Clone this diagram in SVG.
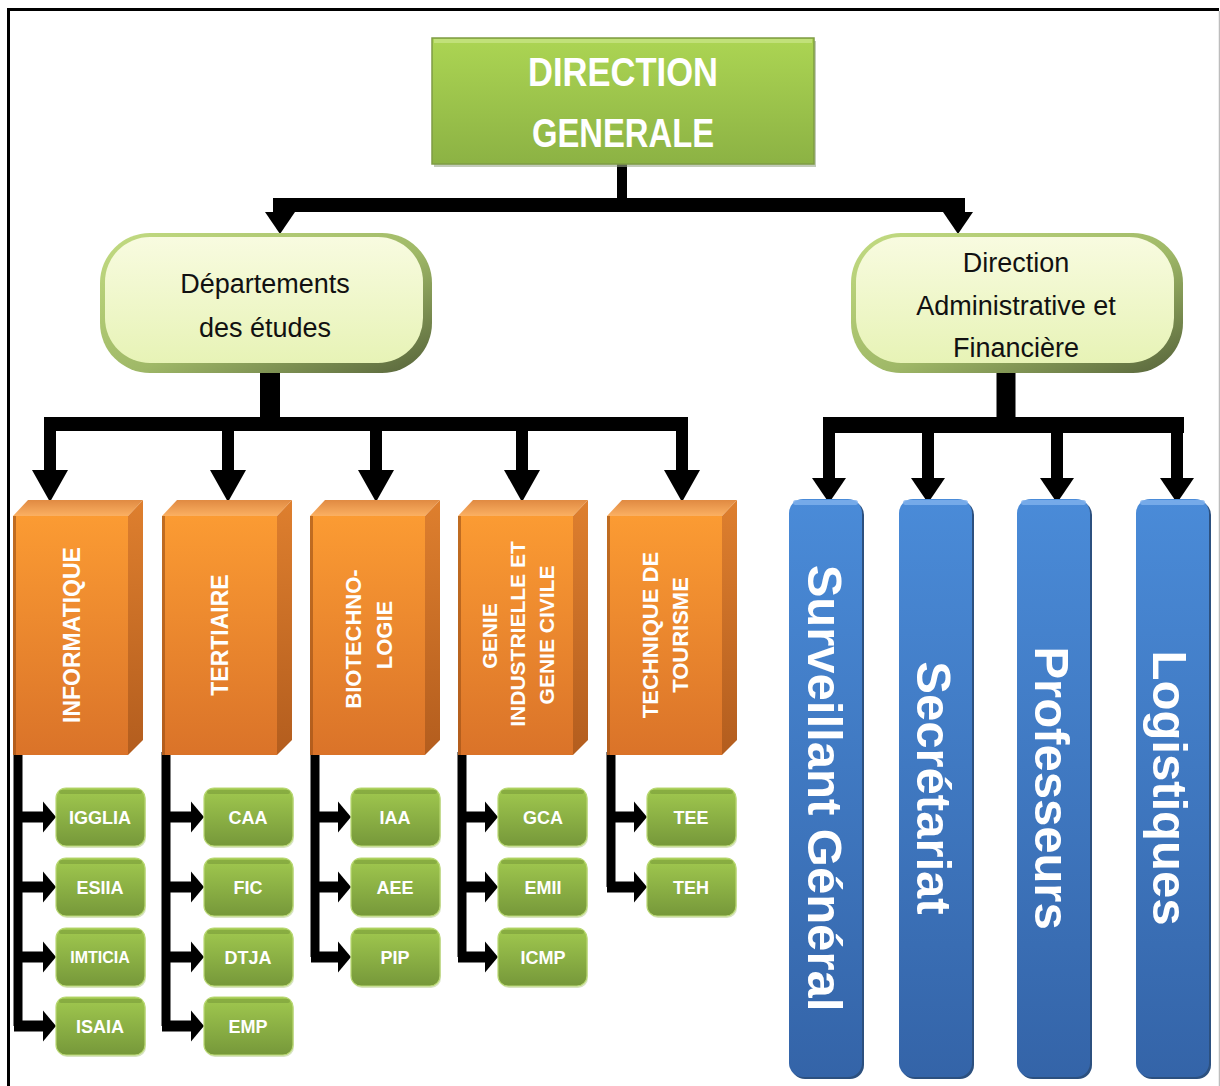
<svg xmlns="http://www.w3.org/2000/svg" xmlns:xlink="http://www.w3.org/1999/xlink" width="1220" height="1086" viewBox="0 0 1220 1086">
  <defs>
    <style>
      .t { font-family: "Liberation Sans", Arial, sans-serif; text-anchor: middle; }
      .dg { font-size: 40px; font-weight: bold; fill: #ffffff; }
      .pill { font-size: 27px; fill: #111111; }
      .dept { font-size: 22px; font-weight: bold; fill: #ffffff; }
      .sub { font-size: 18px; font-weight: bold; fill: #ffffff; }
      .staff { font-size: 49px; font-weight: bold; fill: #ffffff; }
      .wire { stroke: #000000; fill: none; stroke-linecap: butt; }
    </style>
    <linearGradient id="gDG" x1="0" y1="0" x2="0" y2="1">
      <stop offset="0" stop-color="#acd553"/>
      <stop offset="1" stop-color="#8cb244"/>
    </linearGradient>
    <linearGradient id="gRim" x1="0" y1="0" x2="1" y2="1">
      <stop offset="0" stop-color="#c3dc82"/>
      <stop offset="0.55" stop-color="#9fb867"/>
      <stop offset="1" stop-color="#56633a"/>
    </linearGradient>
    <linearGradient id="gPill" x1="0" y1="0" x2="0" y2="1">
      <stop offset="0" stop-color="#f8fbe0"/>
      <stop offset="1" stop-color="#e7f3b6"/>
    </linearGradient>
    <linearGradient id="gOrFront" x1="0" y1="0" x2="0" y2="1">
      <stop offset="0" stop-color="#fb9b33"/>
      <stop offset="1" stop-color="#da7329"/>
    </linearGradient>
    <linearGradient id="gOrTop" x1="0" y1="0" x2="0" y2="1">
      <stop offset="0" stop-color="#e08a42"/>
      <stop offset="1" stop-color="#fbb062"/>
    </linearGradient>
    <linearGradient id="gOrSide" x1="0" y1="0" x2="0" y2="1">
      <stop offset="0" stop-color="#de7f2e"/>
      <stop offset="1" stop-color="#b35d1e"/>
    </linearGradient>
    <linearGradient id="gGreen" x1="0" y1="0" x2="0" y2="1">
      <stop offset="0" stop-color="#a1c94f"/>
      <stop offset="1" stop-color="#76983a"/>
    </linearGradient>
    <linearGradient id="gBlue" x1="0" y1="0" x2="0" y2="1">
      <stop offset="0" stop-color="#4a8bd8"/>
      <stop offset="1" stop-color="#3464a8"/>
    </linearGradient>

    <!-- arrowheads, tip at origin -->
    <path id="headDownBig" d="M-15,-22 L15,-22 L0,0 Z" fill="#000"/>
    <path id="headDown" d="M-18,-32 L18,-32 L0,0 Z" fill="#000"/>
    <path id="headDownR" d="M-17,-25 L17,-25 L0,0 Z" fill="#000"/>
    <path id="headRight" d="M-13,-15.5 L0,0 L-13,15.5 Z" fill="#000"/>

    <!-- green leaf box -->
    <g id="leaf">
      <rect x="1" y="2" width="89" height="58" rx="10" fill="#c8d9a6" opacity="0.7"/>
      <rect x="0" y="0" width="89" height="58" rx="10" fill="url(#gGreen)" stroke="#b9d873" stroke-width="1.2"/>
      <rect x="3" y="2" width="83" height="4" rx="2" fill="#5f7e2a" opacity="0.35"/>
    </g>

    <!-- orange 3D block -->
    <g id="block">
      <rect x="0" y="16" width="115" height="239" fill="url(#gOrFront)"/>
      <polygon points="0,16 15,0 130,0 115,16" fill="url(#gOrTop)"/>
      <polygon points="115,16 130,0 130,240 115,255" fill="url(#gOrSide)"/>
      <rect x="0" y="16" width="3" height="239" fill="#9a4f16" opacity="0.6"/>
    </g>

    <!-- blue staff bar -->
    <g id="bar">
      <rect x="2" y="2" width="73" height="578" rx="14" fill="#2c507f"/>
      <rect x="0" y="0" width="73" height="578" rx="14" fill="url(#gBlue)"/>
      <rect x="4" y="1" width="65" height="5" rx="2.5" fill="#7fb2ee" opacity="0.8"/>
    </g>
  </defs>

  <rect width="1220" height="1086" fill="#ffffff"/>

  <!-- page frame -->
  <g id="frame">
    <line x1="7" y1="9.5" x2="1219" y2="9.5" stroke="#000" stroke-width="3"/>
    <line x1="8.5" y1="8" x2="8.5" y2="1086" stroke="#000" stroke-width="3"/>
    <line x1="1219.5" y1="11" x2="1219.5" y2="1086" stroke="#bdbdbd" stroke-width="1.5"/>
  </g>

  <!-- connectors -->
  <g id="connectors">
    <!-- top level -->
    <line class="wire" x1="622" y1="164" x2="622" y2="205" stroke-width="10"/>
    <line class="wire" x1="273" y1="205" x2="965" y2="205" stroke-width="14"/>
    <line class="wire" x1="280" y1="205" x2="280" y2="214" stroke-width="12"/>
    <line class="wire" x1="958" y1="205" x2="958" y2="214" stroke-width="12"/>
    <use xlink:href="#headDownBig" x="280" y="234"/>
    <use xlink:href="#headDownBig" x="958" y="234"/>

    <!-- departments -->
    <line class="wire" x1="270" y1="372" x2="270" y2="424" stroke-width="20"/>
    <line class="wire" x1="44" y1="424" x2="688" y2="424" stroke-width="14"/>
    <line class="wire" x1="50" y1="424" x2="50" y2="472" stroke-width="12"/>
    <line class="wire" x1="228" y1="424" x2="228" y2="472" stroke-width="12"/>
    <line class="wire" x1="376" y1="424" x2="376" y2="472" stroke-width="12"/>
    <line class="wire" x1="522" y1="424" x2="522" y2="472" stroke-width="12"/>
    <line class="wire" x1="682" y1="424" x2="682" y2="472" stroke-width="12"/>
    <use xlink:href="#headDown" x="50" y="502"/>
    <use xlink:href="#headDown" x="228" y="502"/>
    <use xlink:href="#headDown" x="376" y="502"/>
    <use xlink:href="#headDown" x="522" y="502"/>
    <use xlink:href="#headDown" x="682" y="502"/>

    <!-- administration -->
    <line class="wire" x1="1006" y1="372" x2="1006" y2="425" stroke-width="19"/>
    <line class="wire" x1="823" y1="425" x2="1184" y2="425" stroke-width="16"/>
    <line class="wire" x1="829" y1="425" x2="829" y2="480" stroke-width="12"/>
    <line class="wire" x1="928" y1="425" x2="928" y2="480" stroke-width="12"/>
    <line class="wire" x1="1057" y1="425" x2="1057" y2="480" stroke-width="12"/>
    <line class="wire" x1="1177" y1="425" x2="1177" y2="480" stroke-width="12"/>
    <use xlink:href="#headDownR" x="829" y="503"/>
    <use xlink:href="#headDownR" x="928" y="503"/>
    <use xlink:href="#headDownR" x="1057" y="503"/>
    <use xlink:href="#headDownR" x="1177" y="503"/>

    <!-- INFORMATIQUE branches -->
    <path class="wire" d="M18,752 V1026" stroke-width="9"/>
    <path class="wire" d="M14,817 H44 M14,887 H44 M14,957 H44 M14,1026 H44" stroke-width="11"/>
    <use xlink:href="#headRight" x="56" y="817"/>
    <use xlink:href="#headRight" x="56" y="887"/>
    <use xlink:href="#headRight" x="56" y="957"/>
    <use xlink:href="#headRight" x="56" y="1026"/>

    <!-- TERTIAIRE branches -->
    <path class="wire" d="M166,752 V1026" stroke-width="9"/>
    <path class="wire" d="M162,817 H192 M162,887 H192 M162,957 H192 M162,1026 H192" stroke-width="11"/>
    <use xlink:href="#headRight" x="204" y="817"/>
    <use xlink:href="#headRight" x="204" y="887"/>
    <use xlink:href="#headRight" x="204" y="957"/>
    <use xlink:href="#headRight" x="204" y="1026"/>

    <!-- BIOTECHNOLOGIE branches -->
    <path class="wire" d="M315,752 V957" stroke-width="9"/>
    <path class="wire" d="M311,817 H339 M311,887 H339 M311,957 H339" stroke-width="11"/>
    <use xlink:href="#headRight" x="351" y="817"/>
    <use xlink:href="#headRight" x="351" y="887"/>
    <use xlink:href="#headRight" x="351" y="957"/>

    <!-- GENIE branches -->
    <path class="wire" d="M462,752 V957" stroke-width="9"/>
    <path class="wire" d="M458,817 H486 M458,887 H486 M458,957 H486" stroke-width="11"/>
    <use xlink:href="#headRight" x="498" y="817"/>
    <use xlink:href="#headRight" x="498" y="887"/>
    <use xlink:href="#headRight" x="498" y="957"/>

    <!-- TOURISME branches -->
    <path class="wire" d="M611,752 V887" stroke-width="9"/>
    <path class="wire" d="M607,817 H635 M607,887 H635" stroke-width="11"/>
    <use xlink:href="#headRight" x="647" y="817"/>
    <use xlink:href="#headRight" x="647" y="887"/>
  </g>

  <!-- top node -->
  <g id="direction-generale">
    <rect x="434" y="41" width="382" height="126" fill="#9aa88a" opacity="0.6"/>
    <rect x="432" y="38" width="382" height="126" fill="url(#gDG)" stroke="#7f9c44" stroke-width="1.5"/>
    <rect x="434" y="39" width="378" height="4" fill="#c7e483" opacity="0.8"/>
    <text class="t dg" x="623" y="86" textLength="190" lengthAdjust="spacingAndGlyphs">DIRECTION</text>
    <text class="t dg" x="623" y="147" textLength="182" lengthAdjust="spacingAndGlyphs">GENERALE</text>
  </g>

  <!-- second level -->
  <g id="departements">
    <rect x="100" y="233" width="332" height="140" rx="50" fill="url(#gRim)"/>
    <rect x="105" y="237" width="318" height="126" rx="45" fill="url(#gPill)"/>
    <text class="t pill" x="265" y="293">Départements</text>
    <text class="t pill" x="265" y="337">des études</text>
  </g>

  <g id="direction-administrative">
    <rect x="851" y="233" width="332" height="140" rx="50" fill="url(#gRim)"/>
    <rect x="856" y="237" width="318" height="126" rx="45" fill="url(#gPill)"/>
    <text class="t pill" x="1016" y="272">Direction</text>
    <text class="t pill" x="1016" y="315">Administrative et</text>
    <text class="t pill" x="1016" y="357">Financière</text>
  </g>

  <!-- departments -->
  <g id="informatique">
    <use xlink:href="#block" x="13" y="500"/>
    <text class="t dept" style="font-size:23px" transform="translate(80,635) rotate(-90)">INFORMATIQUE</text>
  </g>
  <g id="tertiaire">
    <use xlink:href="#block" x="162" y="500"/>
    <text class="t dept" style="font-size:23px" transform="translate(228,635) rotate(-90)">TERTIAIRE</text>
  </g>
  <g id="biotechnologie">
    <use xlink:href="#block" x="310" y="500"/>
    <text class="t dept" transform="translate(361,639) rotate(-90)">BIOTECHNO-</text>
    <text class="t dept" transform="translate(392,635) rotate(-90)">LOGIE</text>
  </g>
  <g id="genie">
    <use xlink:href="#block" x="458" y="500"/>
    <text class="t dept" style="font-size:21px" transform="translate(497,636) rotate(-90)">GENIE</text>
    <text class="t dept" style="font-size:21px" transform="translate(525,634) rotate(-90)">INDUSTRIELLE ET</text>
    <text class="t dept" style="font-size:21px" transform="translate(554,635) rotate(-90)">GENIE CIVILE</text>
  </g>
  <g id="tourisme">
    <use xlink:href="#block" x="607" y="500"/>
    <text class="t dept" transform="translate(658,635) rotate(-90)">TECHNIQUE DE</text>
    <text class="t dept" transform="translate(688,635) rotate(-90)">TOURISME</text>
  </g>

  <!-- programmes -->
  <g id="igglia"><use xlink:href="#leaf" x="56" y="788"/><text class="t sub" x="100" y="824">IGGLIA</text></g>
  <g id="esiia"><use xlink:href="#leaf" x="56" y="858"/><text class="t sub" x="100" y="894">ESIIA</text></g>
  <g id="imticia"><use xlink:href="#leaf" x="56" y="928"/><text class="t sub" style="font-size:16px" x="100" y="963">IMTICIA</text></g>
  <g id="isaia"><use xlink:href="#leaf" x="56" y="997"/><text class="t sub" x="100" y="1033">ISAIA</text></g>

  <g id="caa"><use xlink:href="#leaf" x="204" y="788"/><text class="t sub" x="248" y="824">CAA</text></g>
  <g id="fic"><use xlink:href="#leaf" x="204" y="858"/><text class="t sub" x="248" y="894">FIC</text></g>
  <g id="dtja"><use xlink:href="#leaf" x="204" y="928"/><text class="t sub" x="248" y="964">DTJA</text></g>
  <g id="emp"><use xlink:href="#leaf" x="204" y="997"/><text class="t sub" x="248" y="1033">EMP</text></g>

  <g id="iaa"><use xlink:href="#leaf" x="351" y="788"/><text class="t sub" x="395" y="824">IAA</text></g>
  <g id="aee"><use xlink:href="#leaf" x="351" y="858"/><text class="t sub" x="395" y="894">AEE</text></g>
  <g id="pip"><use xlink:href="#leaf" x="351" y="928"/><text class="t sub" x="395" y="964">PIP</text></g>

  <g id="gca"><use xlink:href="#leaf" x="498" y="788"/><text class="t sub" x="543" y="824">GCA</text></g>
  <g id="emii"><use xlink:href="#leaf" x="498" y="858"/><text class="t sub" x="543" y="894">EMII</text></g>
  <g id="icmp"><use xlink:href="#leaf" x="498" y="928"/><text class="t sub" x="543" y="964">ICMP</text></g>

  <g id="tee"><use xlink:href="#leaf" x="647" y="788"/><text class="t sub" x="691" y="824">TEE</text></g>
  <g id="teh"><use xlink:href="#leaf" x="647" y="858"/><text class="t sub" x="691" y="894">TEH</text></g>

  <!-- administrative staff -->
  <g id="surveillant">
    <use xlink:href="#bar" x="789" y="499"/>
    <text class="t staff" transform="translate(808,788) rotate(90)">Surveillant Général</text>
  </g>
  <g id="secretariat">
    <use xlink:href="#bar" x="899" y="499"/>
    <text class="t staff" transform="translate(917,788) rotate(90)">Secrétariat</text>
  </g>
  <g id="professeurs">
    <use xlink:href="#bar" x="1017" y="499"/>
    <text class="t staff" transform="translate(1035,788) rotate(90)">Professeurs</text>
  </g>
  <g id="logistiques">
    <use xlink:href="#bar" x="1136" y="499"/>
    <text class="t staff" transform="translate(1153,788) rotate(90)">Logistiques</text>
  </g>
</svg>
